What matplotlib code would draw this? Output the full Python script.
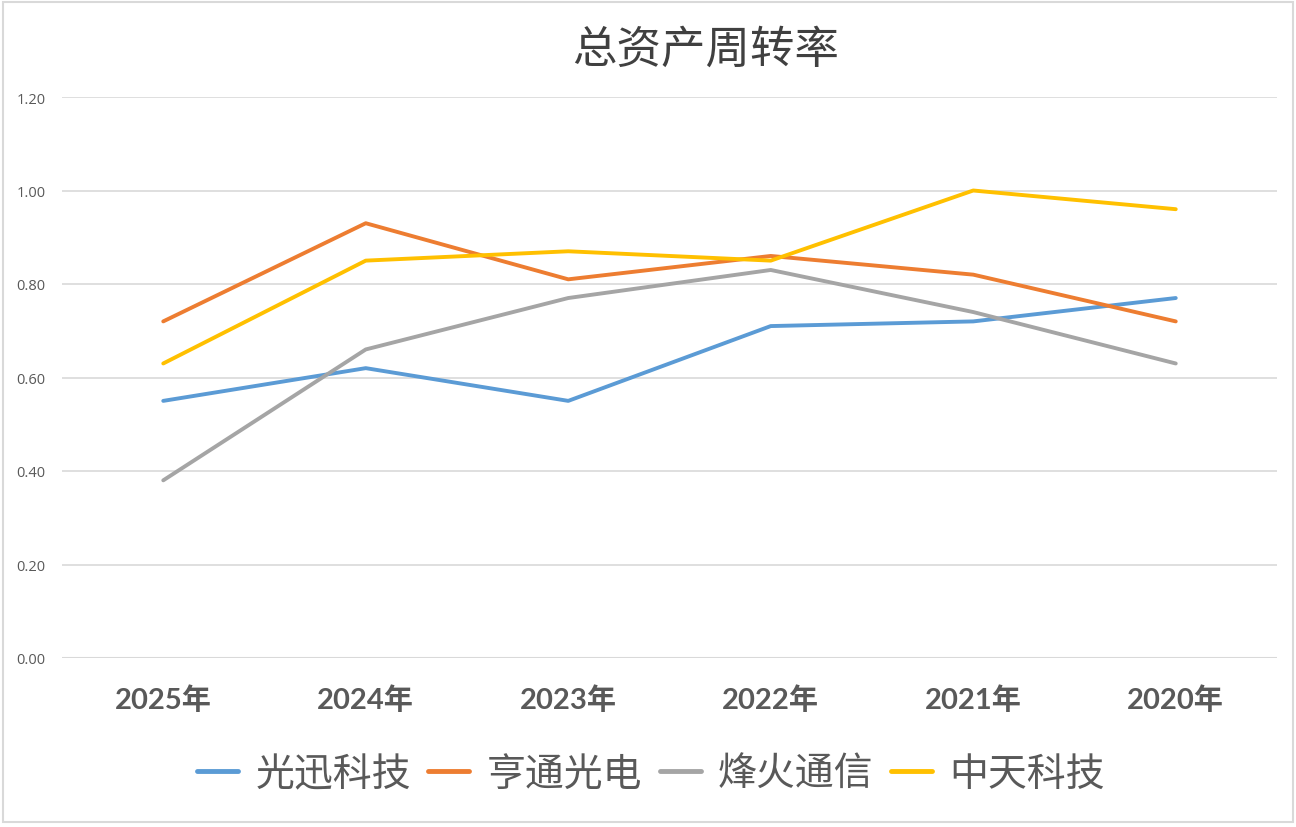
import matplotlib
matplotlib.use("Agg")
import matplotlib.pyplot as plt
from matplotlib.patches import Rectangle

years = ["2025年", "2024年", "2023年", "2022年", "2021年", "2020年"]
series_names = ["光迅科技", "亨通光电", "烽火通信", "中天科技"]
guangxun = [0.55, 0.62, 0.55, 0.71, 0.72, 0.77]
hengtong = [0.72, 0.93, 0.81, 0.86, 0.82, 0.72]
fenghuo = [0.38, 0.66, 0.77, 0.83, 0.74, 0.63]
zhongtian = [0.63, 0.85, 0.87, 0.85, 1.00, 0.96]
yticks = [0.0, 0.2, 0.4, 0.6, 0.8, 1.0, 1.2]
colors = ["#5B9BD5", "#ED7D31", "#A5A5A5", "#FFC000"]

plt.rcParams['font.family'] = ['Lato', 'Noto Sans CJK SC', 'DejaVu Sans']

W, H = 1296, 828
fig = plt.figure(figsize=(W / 100, H / 100), dpi=100)
fig.patch.set_facecolor("white")

ax = fig.add_axes([62 / W, 1 - 659 / H, (1277 - 62) / W, (659 - 98) / H])
x = list(range(len(years)))
for vals, name, c in zip([guangxun, hengtong, fenghuo, zhongtian], series_names, colors):
    ax.plot(x, vals, color=c, lw=2.8, solid_capstyle='round', solid_joinstyle='round', label=name, zorder=3)

ax.set_xlim(-0.5, len(years) - 0.5)
ax.set_ylim(0, 1.2)
ax.set_yticks(yticks)
ax.set_yticklabels([f"{v:.2f}" for v in yticks], fontsize=10.5, color="#595959", family=['Open Sans', 'DejaVu Sans'])
ax.set_xticks(x)
ax.set_xticklabels(years, fontsize=21, fontweight='bold', color="#595959")
ax.tick_params(axis='y', length=0, pad=12)
ax.tick_params(axis='x', length=0, pad=20)
for s in ax.spines.values():
    s.set_visible(False)
ax.grid(axis='y', color="#D9D9D9", lw=1.2, zorder=0)
ax.set_axisbelow(True)
ax.axhline(0, color="#D9D9D9", lw=1.5, zorder=1)

fig.text(706 / W, 1 - 50 / H, "总资产周转率", ha='center', va='center', fontsize=32,
         color="#404040", family=['Noto Sans CJK SC'])

leg = fig.legend(loc='center', bbox_to_anchor=(651 / W, 1 - 775 / H), ncol=4, frameon=False,
                 prop={'family': 'Noto Sans CJK SC', 'size': 28}, handlelength=1.05,
                 handletextpad=0.45, columnspacing=0.45)
for t in leg.get_texts():
    t.set_color("#595959")
for l in leg.get_lines():
    l.set_linewidth(3.5)
    l.set_solid_capstyle('round')

fig.patches.append(Rectangle((3 / W, 1 - 823 / H), (1293 - 3) / W, (823 - 3) / H,
                             transform=fig.transFigure, fill=False, edgecolor="#D9D9D9", lw=1.5))

fig.savefig("out.png", dpi=100)
